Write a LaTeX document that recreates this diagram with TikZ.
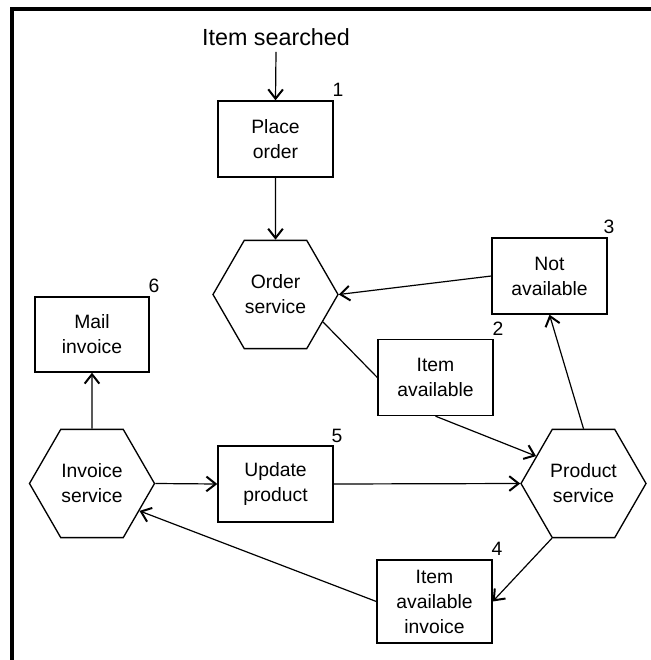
\documentclass[tikz,border=0pt]{standalone}
\usepackage{fontspec}
\setmainfont{Liberation Sans}
\usetikzlibrary{shapes.geometric,arrows.meta}
\begin{document}
\begin{tikzpicture}[x=0.75pt,y=-0.75pt,
  lbl/.style={font=\fontsize{14.5}{18.75}\selectfont, align=center, inner sep=0pt},
  box/.style={lbl, draw, line width=1pt, minimum width=86.25pt, minimum height=57pt},
  hexa/.style={lbl, draw, line width=1pt, regular polygon, regular polygon sides=6, minimum size=93.75pt},
  num/.style={font=\fontsize{14.5}{17}\selectfont, inner sep=0pt, anchor=base},
  conn/.style={line width=0.9pt},
  arr/.style={conn, -{Straight Barb[length=7pt,width=11pt,line width=1.5pt]}},
  framestyle/.style={line width=2.5pt}
]
\useasboundingbox (0,0) rectangle (650,660);
\fill[white] (-10,-10) rectangle (660,670);
\draw[framestyle] (12,670) -- (12,9) -- (660,9);

% nodes
\node[lbl, font=\fontsize{17.5}{20}\selectfont, anchor=base, inner sep=4pt] (title) at (276,46) {Item searched};
\node[box] (po) at (275.5,139) {Place\\order};
\node[hexa] (os) at (275.5,294.5) {Order\\service};
\node[box] (na) at (549.5,276) {Not\\available};
\node[box] (ia) at (435.5,377.5) {Item\\available};
\node[box] (up) at (275.5,484) {Update\\product};
\node[hexa] (ps) at (583.5,483.5) {Product\\service};
\node[hexa] (is) at (92,483.5) {Invoice\\service};
\node[box, minimum width=85.5pt, minimum height=56.25pt] (mi) at (92,334.5) {Mail\\invoice};
\node[box, minimum height=62.25pt] (iai) at (434.5,601.5) {Item\\available\\invoice};

% step numbers
\node[num] (n1) at (338,97) {1};
\node[num] (n2) at (498,335) {2};
\node[num] (n3) at (609,233) {3};
\node[num] (n4) at (497,555) {4};
\node[num] (n5) at (337,442) {5};
\node[num] (n6) at (154,292) {6};

% connectors
\draw[arr] (title.south) -- (po.north);
\draw[arr] (po.south) -- (os.north);
\draw[arr] (na.west) -- (os.east);
\draw[conn] (os.-30) -- (ia.west);
\draw[arr] (ia.south) -- (ps.150);
\draw[arr] (ps.north) -- (na.south);
\draw[arr] (up.east) -- (ps.west);
\draw[arr] (is.east) -- (up.west);
\draw[arr] (is.north) -- (mi.south);
\draw[arr] (ps.-120) -- (iai.east);
\draw[arr] (iai.west) -- (is.-30);
\end{tikzpicture}
\end{document}
